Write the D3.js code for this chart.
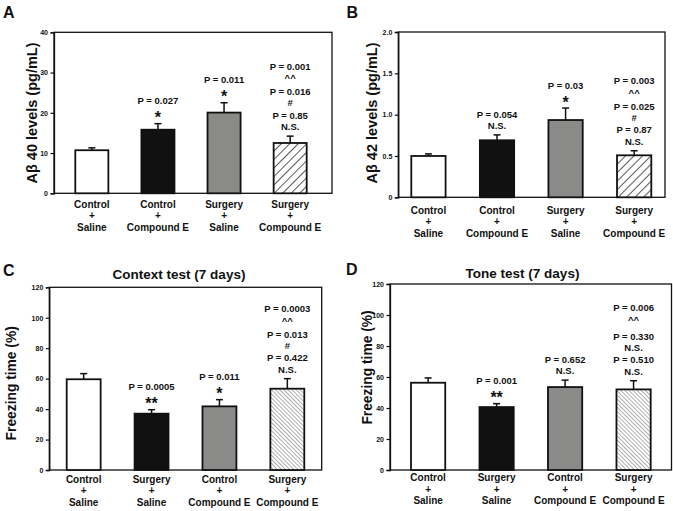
<!DOCTYPE html>
<html>
<head>
<meta charset="utf-8">
<script src="https://cdn.jsdelivr.net/npm/d3@7"></script>
<style>
  html, body { margin: 0; padding: 0; background: #fff; }
  svg { display: block; font-family: "Liberation Sans", Arial, sans-serif; }
</style>
</head>
<body>
<script>
// ---------------- DATA ----------------
const groupsAB = [["Control", "+", "Saline"], ["Control", "+", "Compound E"], ["Surgery", "+", "Saline"], ["Surgery", "+", "Compound E"]];
const groupsCD = [["Control", "+", "Saline"], ["Surgery", "+", "Saline"], ["Control", "+", "Compound E"], ["Surgery", "+", "Compound E"]];

const abeta40Means = [10.7, 15.8, 20.05, 12.5];
const abeta40Errors = [0.6, 1.5, 2.45, 1.7];
const abeta40Ticks = [0, 10, 20, 30, 40];
const abeta40Notes = [[], ["P = 0.027", "*"], ["P = 0.011", "*"], ["P = 0.001", "^^", "P = 0.016", "#", "P = 0.85", "N.S."]];

const abeta42Means = [0.50, 0.69, 0.935, 0.508];
const abeta42Errors = [0.025, 0.065, 0.145, 0.055];
const abeta42Ticks = [0, 0.5, 1.0, 1.5, 2.0];
const abeta42Notes = [[], ["P = 0.054", "N.S."], ["P = 0.03", "*"], ["P = 0.003", "^^", "P = 0.025", "#", "P = 0.87", "N.S."]];

const contextMeans = [59.6, 37.0, 41.8, 53.4];
const contextErrors = [3.7, 2.6, 4.4, 6.6];
const freezingTicks = [0, 20, 40, 60, 80, 100, 120];
const contextNotes = [[], ["P = 0.0005", "**"], ["P = 0.011", "*"], ["P = 0.0003", "^^", "P = 0.013", "#", "P = 0.422", "N.S."]];

const toneMeans = [56.3, 40.6, 53.5, 52.0];
const toneErrors = [3.1, 2.2, 4.5, 5.6];
const toneNotes = [[], ["P = 0.001", "**"], ["P = 0.652", "N.S."], ["P = 0.006", "^^", "P = 0.330", "N.S.", "P = 0.510", "N.S."]];

const fills = ["#ffffff", "#111111", "#8a8a88", "url(#hatchA)"];
const fillsCD = ["#ffffff", "#111111", "#8a8a88", "url(#hatchC)"];

// ---------------- LAYOUT ----------------
const panels = [
  { letter: "A", groups: groupsAB, means: abeta40Means, errors: abeta40Errors, notes: abeta40Notes,
    ticks: abeta40Ticks, fmt: d => String(d), ylabel: "Aβ 40 levels (pg/mL)", title: null, fills: fills,
    frame: { l: 54, r: 332, t: 32.3, b: 193.3 }, bars: [75.3, 306.7],
    letterPos: [3, 17.5], ylabelPos: [31.5, 113], ylabelSize: 14.5, xlabOffset: 10.7 },
  { letter: "B", groups: groupsAB, means: abeta42Means, errors: abeta42Errors, notes: abeta42Notes,
    ticks: abeta42Ticks, fmt: d => d === 0 ? "0" : d.toFixed(1), ylabel: "Aβ 42 levels (pg/mL)", title: null, fills: fills,
    frame: { l: 398.3, r: 665, t: 32, b: 197.3 }, bars: [411.3, 651.3],
    letterPos: [346.5, 17.5], ylabelPos: [372, 113], ylabelSize: 14.5, xlabOffset: 12.7 },
  { letter: "C", groups: groupsCD, means: contextMeans, errors: contextErrors, notes: contextNotes,
    ticks: freezingTicks, fmt: d => String(d), ylabel: "Freezing time (%)", title: "Context test (7 days)", fills: fillsCD,
    frame: { l: 49.3, r: 321.7, t: 287.3, b: 470 }, bars: [66.7, 304.3],
    letterPos: [3, 275.5], ylabelPos: [11.5, 383.3], ylabelSize: 13.8, xlabOffset: 9.3, titlePos: [179, 278.5] },
  { letter: "D", groups: groupsCD, means: toneMeans, errors: toneErrors, notes: toneNotes,
    ticks: freezingTicks, fmt: d => String(d), ylabel: "Freezing time (%)", title: "Tone test (7 days)", fills: fillsCD,
    frame: { l: 390, r: 671.5, t: 284, b: 470 }, bars: [411, 650.7],
    letterPos: [346, 274.5], ylabelPos: [367.5, 367.5], ylabelSize: 13.8, xlabOffset: 7.7, titlePos: [522.5, 277.5],
    betweenGapFirst: 19 }
];

const W = 673, H = 511;
const svg = d3.select("body").append("svg").attr("width", W).attr("height", H);

// patterns
const defs = svg.append("defs");
const pA = defs.append("pattern").attr("id", "hatchA").attr("patternUnits", "userSpaceOnUse")
  .attr("width", 6).attr("height", 6).attr("patternTransform", "rotate(45)");
pA.append("rect").attr("width", 6).attr("height", 6).attr("fill", "#fff");
pA.append("line").attr("x1", 0).attr("y1", 0).attr("x2", 0).attr("y2", 6).attr("stroke", "#111").attr("stroke-width", 1.4);
const pC = defs.append("pattern").attr("id", "hatchC").attr("patternUnits", "userSpaceOnUse")
  .attr("width", 2.9).attr("height", 4).attr("patternTransform", "rotate(-45)");
pC.append("rect").attr("width", 2.9).attr("height", 4).attr("fill", "#fff");
pC.append("line").attr("x1", 0).attr("y1", 0).attr("x2", 0).attr("y2", 4).attr("stroke", "#333").attr("stroke-width", 0.8);

const noteFont = 9.5, astFont = 16;
function lineKind(s) {
  if (s.startsWith("P")) return "p";
  if (s.includes("*")) return "ast";
  if (s.includes("^")) return "caret";
  return "sym";
}
function centerOffset(kind) { // baseline minus visual center
  if (kind === "ast") return 0.57 * astFont;
  if (kind === "caret") return 0.55 * noteFont;
  return 0.36 * noteFont;
}

panels.forEach(P => {
  const g = svg.append("g");
  const f = P.frame;
  const y = d3.scaleLinear().domain([P.ticks[0], P.ticks[P.ticks.length - 1]]).range([f.b, f.t]);
  const x = d3.scaleBand().domain(d3.range(P.means.length)).range(P.bars).paddingInner(0.5).paddingOuter(0);

  // frame
  g.append("rect").attr("x", f.l).attr("y", f.t).attr("width", f.r - f.l).attr("height", f.b - f.t)
    .attr("fill", "none").attr("stroke", "#111").attr("stroke-width", 1.3);

  // axis
  const ax = g.append("g").attr("transform", `translate(${f.l},0)`)
    .call(d3.axisLeft(y).tickValues(P.ticks).tickFormat(P.fmt).tickSize(3.5).tickPadding(2.5));
  ax.select(".domain").attr("stroke", "#111").attr("stroke-width", 1.3);
  ax.selectAll(".tick line").attr("stroke", "#111").attr("stroke-width", 1.2);
  ax.selectAll(".tick text").attr("font-size", 7).attr("font-weight", "bold").attr("fill", "#111")
    .attr("font-family", "Liberation Sans, Arial, sans-serif");

  // bars
  g.selectAll("rect.bar").data(P.means).join("rect").attr("class", "bar")
    .attr("x", (d, i) => x(i)).attr("width", x.bandwidth())
    .attr("y", d => y(d)).attr("height", d => y(0) - y(d))
    .attr("fill", (d, i) => P.fills[i]).attr("stroke", "#111").attr("stroke-width", 1.8);

  // error bars
  const capW = 7;
  P.means.forEach((m, i) => {
    const cx = x(i) + x.bandwidth() / 2;
    g.append("line").attr("x1", cx).attr("x2", cx).attr("y1", y(m)).attr("y2", y(m + P.errors[i]))
      .attr("stroke", "#111").attr("stroke-width", 1.5);
    g.append("line").attr("x1", cx - capW / 2).attr("x2", cx + capW / 2)
      .attr("y1", y(m + P.errors[i])).attr("y2", y(m + P.errors[i]))
      .attr("stroke", "#111").attr("stroke-width", 1.5);
  });

  // annotations
  P.notes.forEach((lines, i) => {
    if (!lines.length) return;
    const cx = x(i) + x.bandwidth() / 2;
    let c = y(P.means[i] + P.errors[i]) - 9.5; // visual center of bottom line
    const centers = new Array(lines.length);
    for (let k = lines.length - 1; k >= 0; k--) {
      centers[k] = c;
      if (k === 0) break;
      const lower = lineKind(lines[k]), upper = lineKind(lines[k - 1]);
      let gap;
      if (lower === "ast") gap = 13.3;
      else if (lower === "caret") gap = 10;
      else if (lower === "p") {
        gap = upper === "caret" ? (P.betweenGapFirst || 15.5) : 12.3;
      } else gap = 11.3;
      c -= gap;
    }
    lines.forEach((s, k) => {
      const kind = lineKind(s);
      g.append("text").attr("x", cx).attr("y", centers[k] + centerOffset(kind))
        .attr("text-anchor", "middle").attr("font-weight", "bold")
        .attr("font-size", kind === "ast" ? astFont : noteFont).attr("fill", "#111")
        .text(s);
    });
  });

  // x labels
  P.groups.forEach((lines, i) => {
    const cx = x(i) + x.bandwidth() / 2;
    lines.forEach((s, k) => {
      g.append("text").attr("x", cx).attr("y", f.b + P.xlabOffset + k * 11.5 + 3.6)
        .attr("text-anchor", "middle").attr("font-weight", "bold").attr("font-size", 10)
        .attr("fill", "#111").text(s);
    });
  });

  // y label
  g.append("text").attr("transform", `translate(${P.ylabelPos[0]},${P.ylabelPos[1]}) rotate(-90)`)
    .attr("text-anchor", "middle").attr("dominant-baseline", "central")
    .attr("font-weight", "bold").attr("font-size", P.ylabelSize).attr("fill", "#111").text(P.ylabel);

  // panel letter
  g.append("text").attr("x", P.letterPos[0]).attr("y", P.letterPos[1])
    .attr("font-weight", "bold").attr("font-size", 16).attr("fill", "#111").text(P.letter);

  // title
  if (P.title) {
    g.append("text").attr("x", P.titlePos[0]).attr("y", P.titlePos[1])
      .attr("text-anchor", "middle").attr("font-weight", "bold").attr("font-size", 13.5)
      .attr("fill", "#111").text(P.title);
  }
});
</script>
</body>
</html>
